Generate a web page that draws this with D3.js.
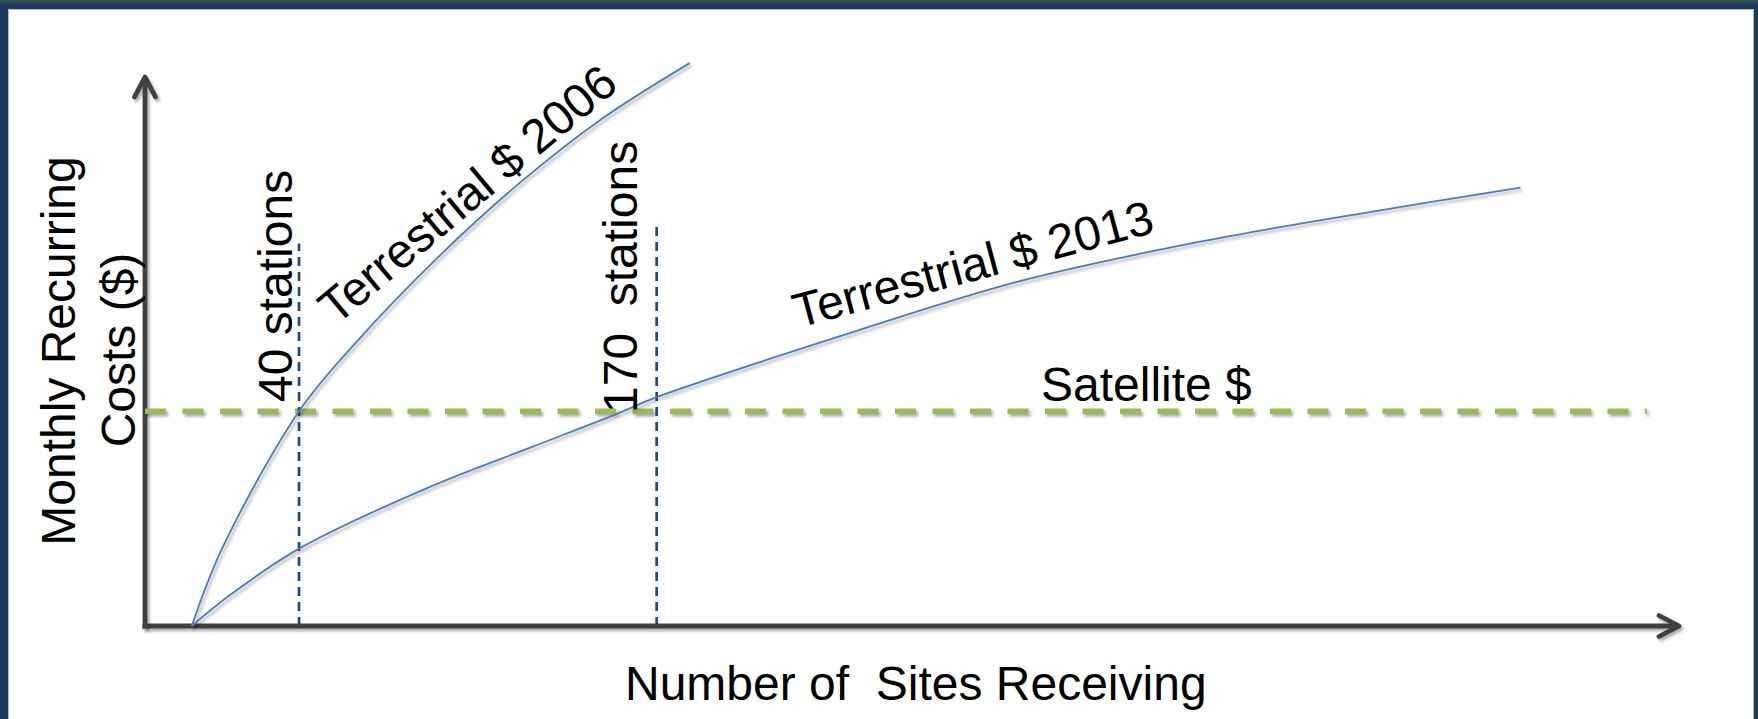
<!DOCTYPE html>
<html>
<head>
<meta charset="utf-8">
<script src="https://cdn.jsdelivr.net/npm/d3@7"></script>
<style>
  html, body { margin: 0; padding: 0; background: #ffffff; }
  svg { display: block; }
  text { font-family: "Liberation Sans", Arial, sans-serif; fill: #000; }
</style>
</head>
<body>
<svg id="chart" width="1758" height="719"></svg>
<script>
// ---- data (arbitrary cost units, satellite = 100) ----
const sites2006 = [1, 12, 40, 60, 90, 120, 150, 182];
const cost2006  = [0, 36, 100, 131, 171, 206, 236, 262];

const sites2013 = [1, 15, 40, 88, 124, 156, 170, 237, 302, 368, 433, 484];
const cost2013  = [0, 14.5, 36, 65, 83, 99, 106.5, 135, 160.5, 179, 193.5, 204];

const satelliteSites = [-16, 530];
const satelliteCost  = [100, 100];

const markerSites = [40, 170];
const markerTop   = [178, 187];
const markerLabels = ["40 stations", "170  stations"];

const seriesLabels = ["Terrestrial $ 2006", "Terrestrial $ 2013", "Satellite $"];
const xTitle = "Number of  Sites Receiving";
const yTitleLines = ["Monthly Recurring", "Costs ($)"];

// ---- layout ----
const W = 1758, H = 719;
const svg = d3.select("#chart");

const x = d3.scaleLinear().domain([-16, 542]).range([145, 1680]);
const y = d3.scaleLinear().domain([0, 256]).range([626, 76]);

const defs = svg.append("defs");
const shadow = defs.append("filter").attr("id", "shadow")
  .attr("filterUnits", "userSpaceOnUse")
  .attr("x", -3000).attr("y", -3000).attr("width", 8000).attr("height", 8000);
shadow.append("feDropShadow").attr("dx", 2).attr("dy", 2.5).attr("stdDeviation", 1.6)
  .attr("flood-color", "#000").attr("flood-opacity", 0.35);

const grad = defs.append("linearGradient").attr("id", "topbar")
  .attr("x1", 0).attr("y1", 0).attr("x2", 0).attr("y2", 1);
grad.append("stop").attr("offset", "0%").attr("stop-color", "#3b5a4e");
grad.append("stop").attr("offset", "45%").attr("stop-color", "#1f3d5c");
grad.append("stop").attr("offset", "100%").attr("stop-color", "#1b3a5e");

const arrow = defs.append("marker").attr("id", "arrow")
  .attr("markerUnits", "userSpaceOnUse")
  .attr("viewBox", "-30 -20 40 40")
  .attr("markerWidth", 40).attr("markerHeight", 40)
  .attr("refX", 0).attr("refY", 0)
  .attr("orient", "auto")
  .style("overflow", "visible");
arrow.append("path").attr("d", "M-20,-10.5L0,0L-20,10.5")
  .attr("fill", "none").attr("stroke", "#404040").attr("stroke-width", 4.8)
  .attr("stroke-linecap", "round").attr("stroke-linejoin", "round");

// frame
svg.append("rect").attr("x", 0).attr("y", 0).attr("width", W).attr("height", H).attr("fill", "#1b3a5e");
svg.append("rect").attr("x", 8).attr("y", 9).attr("width", W - 12).attr("height", H - 9).attr("fill", "#ffffff");
svg.append("rect").attr("x", 0).attr("y", 0).attr("width", W).attr("height", 9).attr("fill", "url(#topbar)");
svg.append("path").attr("d", `M8.5,${H}V9.5H${W - 4.5}V${H}`)
  .attr("fill", "none").attr("stroke", "#a9b7ca").attr("stroke-width", 1);

// axes (no ticks) with open arrowheads
const xAxis = d3.axisBottom(x).tickValues([]).tickSizeOuter(0);
const yAxis = d3.axisLeft(y).tickValues([]).tickSizeOuter(0);

const gx = svg.append("g").attr("transform", `translate(0,${y(0)})`).call(xAxis);
const gy = svg.append("g").attr("transform", `translate(${x(-16)},0)`).call(yAxis);
gx.select(".domain").attr("d", `M${x.range()[0] - 2.4},0H${x.range()[1] - 1}`);
gy.select(".domain").attr("d", `M0,${y.range()[0] + 2.4}V${y.range()[1] + 1}`);
[gx, gy].forEach(g => {
  g.attr("filter", "url(#shadow)");
  g.select(".domain")
    .attr("stroke", "#404040").attr("stroke-width", 4.8)
    .attr("stroke-linecap", "butt")
    .attr("marker-end", "url(#arrow)");
});

// satellite dashed line
const line = d3.line().x(d => x(d[0])).y(d => y(d[1]));
svg.append("path")
  .datum(d3.zip(satelliteSites, satelliteCost))
  .attr("d", line)
  .attr("fill", "none").attr("stroke", "#9bbb59").attr("stroke-width", 5.5)
  .attr("stroke-dasharray", "21 16.5")
  .attr("filter", "url(#shadow)");

// station markers
svg.selectAll(".marker").data(d3.zip(markerSites, markerTop)).join("line")
  .attr("class", "marker")
  .attr("x1", d => x(d[0])).attr("x2", d => x(d[0]))
  .attr("y1", y(0)).attr("y2", d => y(d[1]))
  .attr("stroke", "#1f497d").attr("stroke-width", 2.7)
  .attr("stroke-dasharray", "9 6");

// terrestrial curves
const curve = d3.line().x(d => x(d[0])).y(d => y(d[1])).curve(d3.curveCatmullRom.alpha(0.5));
[[sites2006, cost2006], [sites2013, cost2013]].forEach(([s, c]) => {
  svg.append("path")
    .datum(d3.zip(s, c))
    .attr("d", curve)
    .attr("fill", "none").attr("stroke", "#4a7ebb").attr("stroke-width", 1.8)
    .attr("filter", "url(#shadow)");
});

// labels
const fs = 48;
svg.append("text").attr("transform", "translate(75,351) rotate(-90)")
  .attr("text-anchor", "middle").style("font-size", fs + "px").text(yTitleLines[0]);
svg.append("text").attr("transform", "translate(135,350) rotate(-90)")
  .attr("text-anchor", "middle").style("font-size", fs + "px").text(yTitleLines[1]);

svg.append("text").attr("x", 625).attr("y", 700)
  .style("font-size", fs + "px").style("white-space", "pre").text(xTitle);

const markerLabelPos = [[292, 402], [637, 413]];
markerLabels.forEach((t, i) => {
  svg.append("text")
    .attr("transform", `translate(${markerLabelPos[i][0]},${markerLabelPos[i][1]}) rotate(-90)`)
    .style("font-size", fs + "px").style("white-space", "pre").text(t);
});

svg.append("text").attr("transform", "translate(336,326) rotate(-40)")
  .style("font-size", fs + "px").text(seriesLabels[0]);
svg.append("text").attr("transform", "translate(798,328) rotate(-15)")
  .style("font-size", fs + "px").text(seriesLabels[1]);
svg.append("text").attr("x", 1041).attr("y", 401)
  .style("font-size", fs + "px").text(seriesLabels[2]);
</script>
</body>
</html>
